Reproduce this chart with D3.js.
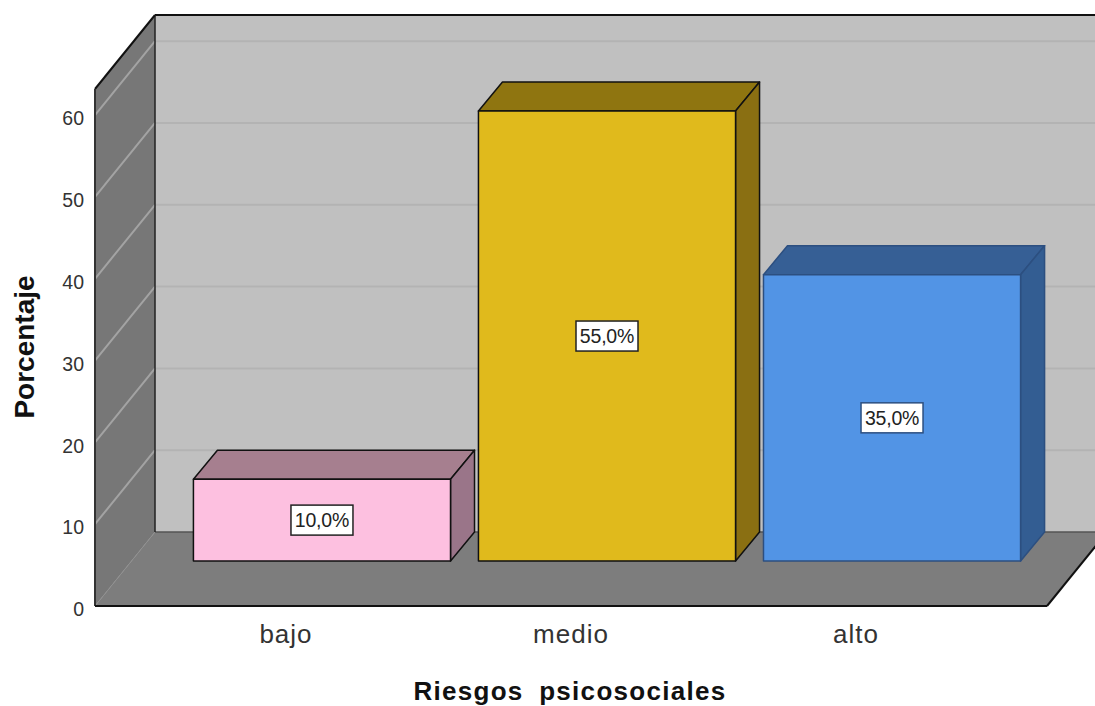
<!DOCTYPE html>
<html><head><meta charset="utf-8">
<script src="https://cdnjs.cloudflare.com/ajax/libs/d3/7.8.5/d3.min.js"></script>
<style>html,body{margin:0;padding:0;background:#fff;overflow:hidden}svg{display:block;font-family:"Liberation Sans",Arial,sans-serif}</style>
</head><body><svg id="c" width="1095" height="706"></svg>
<script>
const categories = ["bajo", "medio", "alto"];
const percentValues = [10, 55, 35];
const valueLabels = ["10,0%", "55,0%", "35,0%"];
const frontColors = ["#fdc0e0", "#e0ba1c", "#5294e5"];
const topColors = ["#a67f8f", "#8f7510", "#365f95"];
const sideColors = ["#9a7589", "#8a6f12", "#335d92"];
const edgeColors = ["#111111", "#111111", "#2c4f80"];
const yTicks = [0, 10, 20, 30, 40, 50, 60];

const svg = d3.select("#c");
const x = d3.scaleBand().domain(categories).range([95, 1047]).paddingInner(0.098).paddingOuter(0.219);
const y = d3.scaleLinear().domain([0, 63.2]).range([606, 89]);
// oblique depth of the plot box, and of the bars within it
const depth = {dx: 60, dy: -74};
const barOff = {dx: 36, dy: -45};
const barDepth = {dx: 24, dy: -29};
const xL = x.range()[0], xR = x.range()[1], yB = y(0), yT = y(y.domain()[1]);
const poly = (pts, fill, stroke, sw) => svg.append("polygon")
  .attr("points", pts.map(p => p.join(",")).join(" "))
  .attr("fill", fill).attr("stroke", stroke || "none").attr("stroke-width", sw || 0).attr("stroke-linejoin", "round");
const line = (a, b, stroke, sw) => svg.append("line")
  .attr("x1", a[0]).attr("y1", a[1]).attr("x2", b[0]).attr("y2", b[1])
  .attr("stroke", stroke).attr("stroke-width", sw);

// Back wall, left wall, floor
poly([[xL+depth.dx, yT+depth.dy], [1100, yT+depth.dy], [1100, yB+depth.dy], [xL+depth.dx, yB+depth.dy]], "#c0c0c0");
poly([[xL, yT], [xL+depth.dx, yT+depth.dy], [xL+depth.dx, yB+depth.dy], [xL, yB]], "#777777");
poly([[xL, yB], [xR, yB], [xR+depth.dx, yB+depth.dy], [xL+depth.dx, yB+depth.dy]], "#7d7d7d");

// Gridlines
yTicks.forEach(t => {
  if (t > 0) line([xL+depth.dx, y(t)+depth.dy], [1100, y(t)+depth.dy], "#b3b3b3", 2);
  line([xL, y(t)], [xL+depth.dx, y(t)+depth.dy], t === 0 ? "#8f8f8f" : "#a3a3a3", t === 0 ? 1 : 2);
});

// Box outlines
line([xL+depth.dx, yB+depth.dy], [1100, yB+depth.dy], "#555555", 1.5);
line([xL+depth.dx, yT+depth.dy], [1100, yT+depth.dy], "#111111", 2);
line([xL+depth.dx, yT+depth.dy], [xL+depth.dx, yB+depth.dy], "#222222", 1.5);
line([xL, yT], [xL+depth.dx, yT+depth.dy], "#111111", 2);
line([xL, yT], [xL, yB], "#333333", 2);
line([xL, yB], [xR, yB], "#111111", 2);
line([xR, yB], [xR+depth.dx, yB+depth.dy], "#111111", 2);

// Bars
categories.forEach((c, i) => {
  const l = x(c) + barOff.dx, r = l + x.bandwidth();
  const b = yB + barOff.dy, t = y(percentValues[i]) + barOff.dy;
  const dx = barDepth.dx, dy = barDepth.dy, e = edgeColors[i];
  poly([[l, t], [r, t], [r+dx, t+dy], [l+dx, t+dy]], topColors[i], e, 1.5);
  poly([[r, t], [r+dx, t+dy], [r+dx, b+dy], [r, b]], sideColors[i], e, 1.5);
  poly([[l, t], [r, t], [r, b], [l, b]], frontColors[i], e, 1.5);
  const cx = (l + r) / 2, cy = (t + b) / 2;
  svg.append("rect").attr("x", cx-31).attr("y", cy-15).attr("width", 62).attr("height", 30)
    .attr("fill", "#fff").attr("stroke", e === "#111111" ? "#222" : "#2c4f80").attr("stroke-width", 1.5);
  svg.append("text").attr("x", cx).attr("y", cy+7).attr("text-anchor", "middle")
    .attr("font-size", 19.5).attr("letter-spacing", -0.2).attr("fill", "#222").text(valueLabels[i]);
});

// Axis tick labels
svg.append("g").attr("transform", `translate(${xL},3.5)`)
  .call(d3.axisLeft(y).tickValues(yTicks).tickSize(0).tickPadding(11))
  .call(g => g.select(".domain").remove())
  .call(g => g.selectAll("text").attr("font-size", 19.5).attr("font-family", "inherit").attr("fill", "#333"));
svg.append("g").attr("transform", `translate(0,${yB})`)
  .call(d3.axisBottom(x).tickSize(0).tickPadding(19))
  .call(g => g.select(".domain").remove())
  .call(g => g.selectAll("text").attr("font-size", 26).attr("letter-spacing", 1).attr("font-family", "inherit").attr("fill", "#333"));

// Axis titles
svg.append("text").attr("x", 570).attr("y", 700).attr("text-anchor", "middle")
  .attr("font-size", 26).attr("font-weight", "bold").attr("letter-spacing", 1.3).attr("fill", "#111").style("word-spacing", "7px").text("Riesgos psicosociales");
svg.append("text").attr("transform", "translate(34,347) rotate(-90)").attr("text-anchor", "middle")
  .attr("font-size", 28).attr("font-weight", "bold").attr("fill", "#111").text("Porcentaje");
</script></body></html>
